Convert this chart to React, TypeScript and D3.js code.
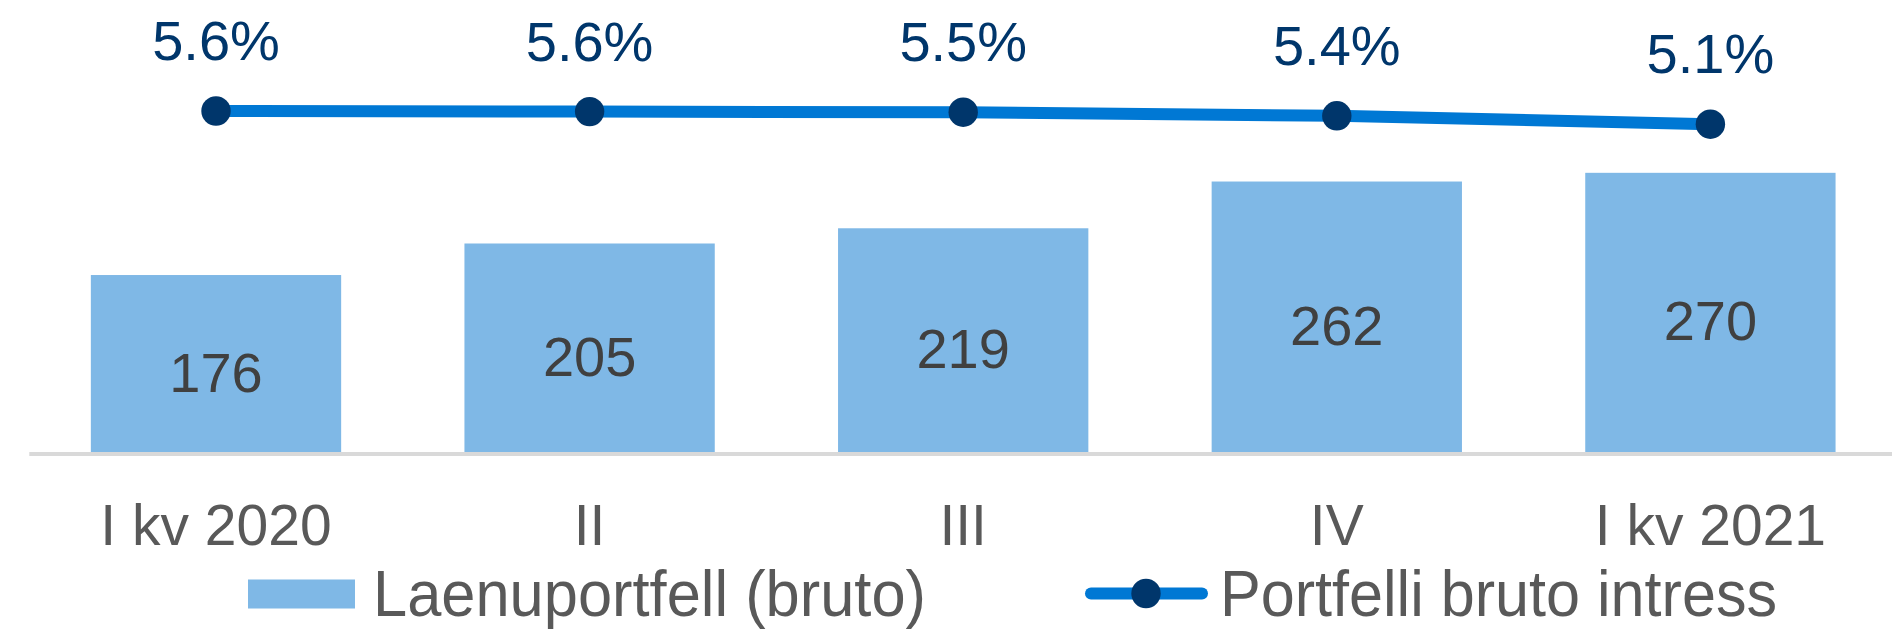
import React from "react";
import { scaleBand, scaleLinear, line } from "d3";

// chart values
const quarters = ["I kv 2020", "II", "III", "IV", "I kv 2021"];
const portfolio = [176, 205, 219, 262, 270];
const interest = [5.58, 5.56, 5.54, 5.42, 5.14];

const barLegend = "Laenuportfell (bruto)";
const lineLegend = "Portfelli bruto intress";

const WIDTH = 1892;
const HEIGHT = 631;
const FONT = "'Liberation Sans', Arial, sans-serif";

export default function App() {
  const xScale = scaleBand<string>()
    .domain(quarters)
    .range([29.2, 1897.2])
    .paddingInner(0.33)
    .paddingOuter(0.165);

  // bar axis does not start at zero in the original
  const yBar = scaleLinear().domain([11.4, 300]).range([454, 140.2]);

  // secondary axis for the rate line
  const yLine = scaleLinear().domain([5, 6]).range([128.4, 98.4]);

  const cx = (q: string) => (xScale(q) as number) + xScale.bandwidth() / 2;

  const linePath = line<number>()
    .x((d, i) => cx(quarters[i]))
    .y(d => yLine(d))(interest);

  return (
    <svg
      width={WIDTH}
      height={HEIGHT}
      style={{ position: "absolute", left: 0, top: 0, background: "#fff" }}
      fontFamily={FONT}
    >
      {/* bars */}
      {portfolio.map((v, i) => (
        <rect
          key={"bar" + i}
          x={xScale(quarters[i])}
          y={yBar(v)}
          width={xScale.bandwidth()}
          height={yBar(11.4) - yBar(v)}
          fill="#7fb8e6"
        />
      ))}

      {/* bar value labels */}
      {portfolio.map((v, i) => (
        <text
          key={"val" + i}
          x={cx(quarters[i])}
          y={(yBar(v) + yBar(11.4)) / 2 + 27}
          textAnchor="middle"
          fontSize={56}
          fill="#404040"
        >
          {v}
        </text>
      ))}

      {/* category axis */}
      <line x1={29.3} x2={WIDTH} y1={454} y2={454} stroke="#d9d9d9" strokeWidth={4} />
      {quarters.map(q => (
        <text
          key={q}
          x={cx(q)}
          y={544.5}
          textAnchor="middle"
          fontSize={57}
          fill="#595959"
        >
          {q}
        </text>
      ))}

      {/* rate line */}
      <path d={linePath || ""} fill="none" stroke="#0078d4" strokeWidth={12} />
      {interest.map((v, i) => (
        <circle key={"pt" + i} cx={cx(quarters[i])} cy={yLine(v)} r={14.7} fill="#00366b" />
      ))}
      {interest.map((v, i) => (
        <text
          key={"pct" + i}
          x={cx(quarters[i])}
          y={yLine(v) - 51}
          textAnchor="middle"
          fontSize={56}
          fill="#00366b"
        >
          {v.toFixed(1) + "%"}
        </text>
      ))}

      {/* legend */}
      <rect x={248} y={579.5} width={107} height={29} fill="#7fb8e6" />
      <text
        x={373}
        y={616}
        fontSize={65}
        fill="#595959"
        textLength={553}
        lengthAdjust="spacingAndGlyphs"
      >
        {barLegend}
      </text>
      <line
        x1={1091}
        x2={1202}
        y1={593.5}
        y2={593.5}
        stroke="#0078d4"
        strokeWidth={12}
        strokeLinecap="round"
      />
      <circle cx={1146} cy={593.5} r={14.7} fill="#00366b" />
      <text
        x={1220}
        y={616}
        fontSize={65}
        fill="#595959"
        textLength={557}
        lengthAdjust="spacingAndGlyphs"
      >
        {lineLegend}
      </text>
    </svg>
  );
}
